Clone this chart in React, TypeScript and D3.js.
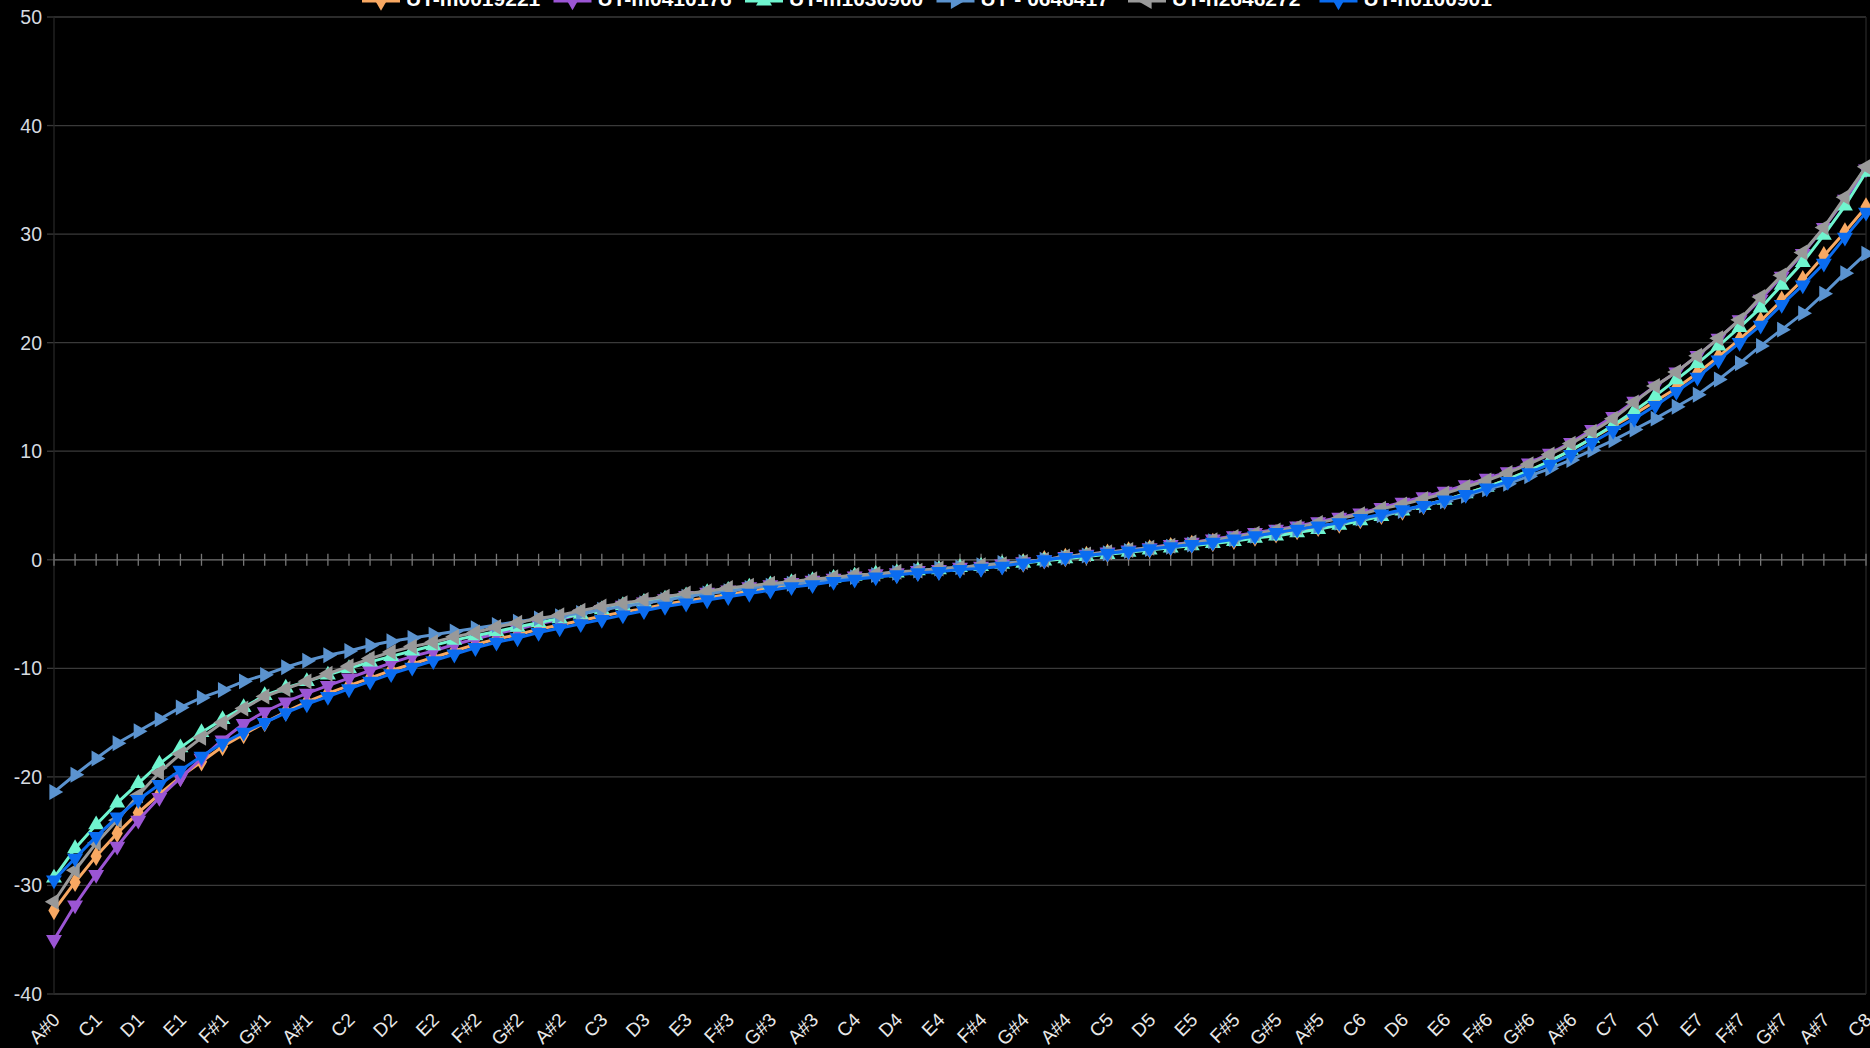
import * as d3 from "d3";

const notes = ["A#0","B0","C1","C#1","D1","D#1","E1","F1","F#1","G1","G#1","A1","A#1","B1","C2","C#2","D2","D#2","E2","F2","F#2","G2","G#2","A2","A#2","B2","C3","C#3","D3","D#3","E3","F3","F#3","G3","G#3","A3","A#3","B3","C4","C#4","D4","D#4","E4","F4","F#4","G4","G#4","A4","A#4","B4","C5","C#5","D5","D#5","E5","F5","F#5","G5","G#5","A5","A#5","B5","C6","C#6","D6","D#6","E6","F6","F#6","G6","G#6","A6","A#6","B6","C7","C#7","D7","D#7","E7","F7","F#7","G7","G#7","A7","A#7","B7","C8"];

const yTicks = [50, 40, 30, 20, 10, 0, -10, -20, -30, -40];

const orange = [
  -32.3, -29.7, -27.3, -25.2, -23.3, -21.6, -20.0, -18.6, -17.2, -16.1,
  -15.0, -14.0, -13.1, -12.3, -11.6, -10.9, -10.2, -9.6, -9.0, -8.4,
  -7.8, -7.3, -6.9, -6.4, -6.0, -5.6, -5.2, -4.8, -4.5, -4.1,
  -3.8, -3.5, -3.2, -2.9, -2.6, -2.3, -2.1, -1.8, -1.6, -1.4,
  -1.3, -1.1, -1.0, -0.8, -0.7, -0.5, -0.3, 0.0, 0.2, 0.4,
  0.6, 0.8, 1.0, 1.2, 1.4, 1.6, 1.8, 2.1, 2.4, 2.7,
  3.0, 3.3, 3.7, 4.1, 4.5, 5.0, 5.5, 6.1, 6.7, 7.4,
  8.2, 9.1, 10.1, 11.2, 12.3, 13.4, 14.6, 15.8, 17.2, 18.7,
  20.3, 22.0, 23.9, 25.8, 28.0, 30.2, 32.5,
];

const purple = [
  -35.0, -31.8, -29.0, -26.4, -24.0, -21.9, -20.1, -18.3, -16.6, -15.1,
  -14.0, -13.1, -12.3, -11.6, -10.9, -10.2, -9.5, -8.9, -8.4, -7.8,
  -7.3, -6.8, -6.4, -5.9, -5.5, -5.0, -4.6, -4.2, -3.9, -3.6,
  -3.3, -3.0, -2.8, -2.5, -2.3, -2.1, -1.9, -1.7, -1.5, -1.3,
  -1.2, -1.0, -0.9, -0.7, -0.6, -0.4, -0.2, 0.0, 0.3, 0.5,
  0.7, 0.9, 1.1, 1.4, 1.6, 1.9, 2.2, 2.5, 2.8, 3.1,
  3.5, 3.9, 4.3, 4.8, 5.3, 5.8, 6.3, 6.9, 7.5, 8.1,
  8.9, 9.8, 10.8, 12.0, 13.2, 14.6, 16.0, 17.3, 18.8, 20.4,
  22.1, 24.0, 26.1, 28.2, 30.6, 33.2, 36.0,
];

const aqua = [
  -29.3, -26.6, -24.4, -22.4, -20.6, -18.8, -17.3, -15.9, -14.7, -13.6,
  -12.5, -11.8, -11.2, -10.6, -10.0, -9.4, -8.9, -8.4, -7.9, -7.4,
  -7.0, -6.6, -6.2, -5.8, -5.4, -5.0, -4.6, -4.2, -3.9, -3.6,
  -3.3, -3.0, -2.8, -2.5, -2.3, -2.1, -1.9, -1.7, -1.5, -1.3,
  -1.2, -1.0, -0.9, -0.7, -0.6, -0.4, -0.3, -0.1, 0.1, 0.3,
  0.5, 0.7, 0.9, 1.1, 1.3, 1.5, 1.7, 2.0, 2.2, 2.5,
  2.8, 3.2, 3.6, 4.0, 4.5, 5.0, 5.5, 6.1, 6.7, 7.4,
  8.2, 9.1, 10.1, 11.2, 12.4, 13.7, 15.1, 16.6, 18.1, 19.7,
  21.4, 23.2, 25.3, 27.4, 29.9, 32.6, 35.7,
];

const steel = [
  -21.4, -19.8, -18.3, -16.9, -15.8, -14.7, -13.6, -12.7, -12.0, -11.2,
  -10.6, -9.9, -9.3, -8.8, -8.4, -7.9, -7.5, -7.2, -6.9, -6.6,
  -6.3, -6.0, -5.7, -5.4, -5.2, -4.9, -4.6, -4.3, -4.0, -3.7,
  -3.4, -3.1, -2.9, -2.6, -2.4, -2.2, -2.0, -1.8, -1.6, -1.4,
  -1.2, -1.0, -0.8, -0.7, -0.5, -0.3, -0.2, 0.0, 0.2, 0.4,
  0.6, 0.8, 1.0, 1.2, 1.4, 1.7, 1.9, 2.2, 2.5, 2.8,
  3.1, 3.4, 3.8, 4.1, 4.5, 5.0, 5.4, 5.9, 6.5, 7.0,
  7.7, 8.4, 9.2, 10.1, 11.0, 12.0, 13.0, 14.1, 15.2, 16.6,
  18.1, 19.7, 21.2, 22.7, 24.5, 26.4, 28.2,
];

const gray = [
  -31.5, -28.6, -26.1, -24.0, -21.7, -19.6, -17.9, -16.4, -15.0, -13.7,
  -12.6, -11.9, -11.2, -10.5, -9.8, -9.1, -8.5, -8.0, -7.6, -7.1,
  -6.7, -6.2, -5.8, -5.4, -5.1, -4.7, -4.3, -4.0, -3.7, -3.4,
  -3.1, -2.9, -2.6, -2.4, -2.2, -2.0, -1.8, -1.6, -1.4, -1.3,
  -1.1, -1.0, -0.8, -0.7, -0.5, -0.4, -0.2, 0.0, 0.3, 0.5,
  0.7, 0.9, 1.1, 1.3, 1.6, 1.8, 2.1, 2.4, 2.7, 3.0,
  3.4, 3.8, 4.2, 4.7, 5.1, 5.6, 6.1, 6.7, 7.3, 8.0,
  8.8, 9.7, 10.7, 11.8, 13.0, 14.5, 16.0, 17.3, 18.8, 20.4,
  22.1, 24.2, 26.2, 28.3, 30.6, 33.4, 36.2,
];

const blue = [
  -29.5, -27.5, -25.5, -23.7, -22.1, -20.7, -19.4, -18.1, -16.9, -15.9,
  -15.0, -14.1, -13.3, -12.6, -11.9, -11.2, -10.5, -9.9, -9.3, -8.7,
  -8.1, -7.6, -7.2, -6.7, -6.3, -5.9, -5.5, -5.1, -4.7, -4.3,
  -4.0, -3.7, -3.4, -3.1, -2.8, -2.5, -2.3, -2.0, -1.8, -1.6,
  -1.4, -1.2, -1.1, -0.9, -0.8, -0.6, -0.3, 0.0, 0.2, 0.4,
  0.6, 0.8, 1.0, 1.2, 1.4, 1.6, 1.9, 2.2, 2.5, 2.8,
  3.1, 3.4, 3.8, 4.2, 4.6, 5.0, 5.5, 6.0, 6.6, 7.2,
  8.0, 8.8, 9.7, 10.8, 11.9, 13.0, 14.2, 15.5, 16.8, 18.4,
  20.0, 21.6, 23.5, 25.3, 27.3, 29.7, 32.0,
];

interface Series {
  name: string;
  color: string;
  values: number[];
  symbol: d3.SymbolType;
  rotate: number;
}

const series: Series[] = [
  { name: "UT-m0019221", color: "#f8a862", values: orange, symbol: d3.symbolDiamond, rotate: 0 },
  { name: "UT-m0410176", color: "#9b55d4", values: purple, symbol: d3.symbolTriangle, rotate: 180 },
  { name: "UT-m1030900", color: "#6ff5cf", values: aqua, symbol: d3.symbolTriangle, rotate: 0 },
  { name: "UT - 0646417", color: "#5b93cf", values: steel, symbol: d3.symbolTriangle, rotate: 90 },
  { name: "UT-h2646272", color: "#999999", values: gray, symbol: d3.symbolTriangle, rotate: -90 },
  { name: "UT-h0100901", color: "#0a6cf0", values: blue, symbol: d3.symbolTriangle, rotate: 180 },
];

const W = 1870;
const H = 1048;
const left = 54;
const right = 1866;
const top = 17;
const bottom = 994;
const font = "'Liberation Sans', Arial, sans-serif";

const App = () => {
  const x = d3.scalePoint<string>().domain(notes).range([left, right]);
  const y = d3.scaleLinear().domain([-40, 50]).range([bottom, top]);

  const line = d3
    .line<number>()
    .x((_, i) => x(notes[i]) as number)
    .y((d) => y(d));

  const y0 = y(0);
  const marker = (s: Series) => d3.symbol().type(s.symbol).size(110)() ?? "";

  return (
    <svg
      width={W}
      height={H}
      style={{ position: "absolute", left: 0, top: 0, background: "#000" }}
      fontFamily={font}
    >
      <rect x={0} y={0} width={W} height={H} fill="#000" />
      {/* gridlines */}
      {yTicks.map((t) => (
        <g key={t}>
          <line x1={left} x2={right} y1={y(t)} y2={y(t)} stroke={t === 0 ? "#767676" : "#3a3a3a"} strokeWidth={1.3} />
          <line x1={left - 7} x2={left} y1={y(t)} y2={y(t)} stroke="#3a3a3a" strokeWidth={1.3} />
          <text x={42} y={y(t) + 7} textAnchor="end" fontSize={19.5} fill="#d6dbe0">
            {t}
          </text>
        </g>
      ))}
      <line x1={left} x2={left} y1={top} y2={bottom} stroke="#262626" strokeWidth={1.3} />
      <line x1={right} x2={right} y1={top} y2={bottom} stroke="#262626" strokeWidth={1.3} />
      {/* category ticks on zero line */}
      {notes.map((n) => (
        <line key={n} x1={x(n)} x2={x(n)} y1={y0 - 6} y2={y0 + 6} stroke="#767676" strokeWidth={1.3} />
      ))}
      {/* category labels */}
      {notes.map((n, i) =>
        i % 2 === 0 ? (
          <text
            key={n}
            transform={`translate(${(x(n) as number) + 7},${bottom + 27}) rotate(-45)`}
            textAnchor="end"
            fontSize={19}
            fill="#e8e8e8"
          >
            {n}
          </text>
        ) : null
      )}
      {/* series */}
      {series.map((s) => (
        <g key={s.name}>
          <path d={line(s.values) ?? ""} fill="none" stroke={s.color} strokeWidth={3} />
          {s.values.map((v, i) => (
            <path
              key={i}
              d={marker(s)}
              transform={`translate(${x(notes[i])},${y(v)}) rotate(${s.rotate})`}
              fill={s.color}
            />
          ))}
        </g>
      ))}
      {/* legend, cut by the top edge as in the source */}
      {series.map((s, i) => {
        const lx = 362 + i * 191.5;
        return (
          <g key={s.name}>
            <line x1={lx} x2={lx + 38} y1={1} y2={1} stroke={s.color} strokeWidth={3} />
            <path d={marker(s)} transform={`translate(${lx + 19},1) rotate(${s.rotate})`} fill={s.color} />
            <text x={lx + 44} y={6} fontSize={21} fontWeight="bold" fill="#ffffff">
              {s.name}
            </text>
          </g>
        );
      })}
    </svg>
  );
};

export default App;
